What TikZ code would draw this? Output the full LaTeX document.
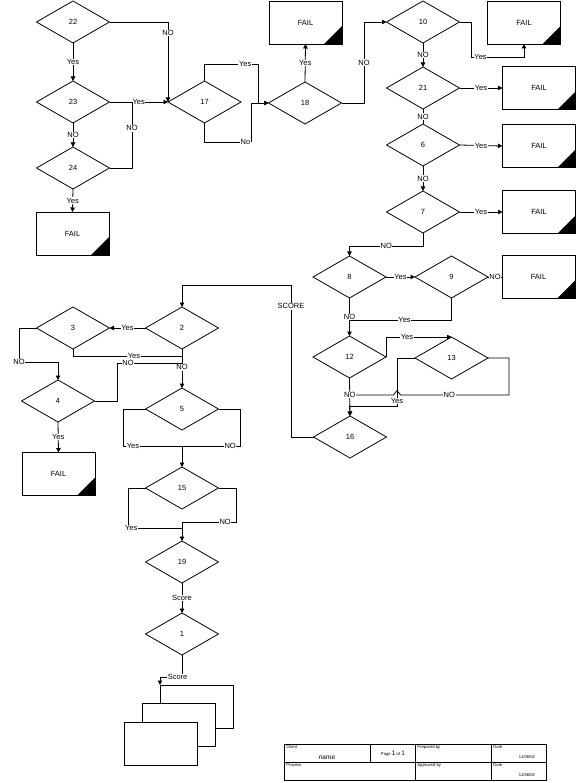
\documentclass[tikz,border=0pt]{standalone}
\usepackage{fontspec}
\setmainfont{Liberation Sans}
\usetikzlibrary{shapes.geometric,arrows.meta}
\newcommand\lblfont{\fontsize{7.5}{9}\selectfont}
\newcommand\tinyfont{\fontsize{4.2}{5}\selectfont}
\newcommand\midfont{\fontsize{6.5}{7}\selectfont}
\begin{document}
\begin{tikzpicture}[x=1pt,y=-1pt,line width=0.8pt,
  dia/.style={diamond,draw,minimum width=73pt,minimum height=42pt,inner sep=0pt,outer sep=0pt,font=\lblfont},
  failbox/.style={rectangle,draw,minimum width=73pt,minimum height=43pt,inner sep=0pt,outer sep=0pt,font=\lblfont,
    path picture={\fill (path picture bounding box.south east) -- ++(-18pt,0pt) -- ++(18pt,18pt) -- cycle;}},
  docbox/.style={rectangle,draw,fill=white,minimum width=73pt,minimum height=43pt,inner sep=0pt,outer sep=0pt},
  lab/.style={fill=white,inner sep=0.6pt,font=\lblfont},
  arr/.style={-{Triangle[length=4.5pt,width=4.5pt]}},
  tb/.style={anchor=north west,inner sep=0pt,font=\tinyfont}]
\fill[white] (0,0) rectangle (577,783);
\useasboundingbox (0,0) rectangle (577,783);
% nodes
\node[dia] (d22) at (73,22) {22};
\node[dia] (d23) at (73,102) {23};
\node[dia] (d24) at (73,168) {24};
\node[failbox] (f1) at (72.5,233.5) {FAIL};
\node[dia] (d17) at (204.5,102) {17};
\node[dia] (d18) at (305,103) {18};
\node[failbox] (f2) at (305.5,22.5) {FAIL};
\node[dia] (d10) at (423,22) {10};
\node[failbox] (f3) at (524,22.5) {FAIL};
\node[dia] (d21) at (423,88) {21};
\node[failbox] (f4) at (539,88) {FAIL};
\node[dia] (d6) at (423,145) {6};
\node[failbox] (f5) at (539,146) {FAIL};
\node[dia] (d7) at (423,212) {7};
\node[failbox] (f6) at (539,212) {FAIL};
\node[dia] (d8) at (349.5,277) {8};
\node[dia] (d9) at (451.5,277) {9};
\node[failbox] (f7) at (538.5,277) {FAIL};
\node[dia] (d12) at (349.5,357) {12};
\node[dia] (d13) at (451.5,358) {13};
\node[dia] (d16) at (350,437) {16};
\node[dia] (d2) at (182,328) {2};
\node[dia] (d3) at (73,328) {3};
\node[dia] (d4) at (58,401) {4};
\node[failbox] (f8) at (58.5,474) {FAIL};
\node[dia] (d5) at (182,409) {5};
\node[dia] (d15) at (182,488) {15};
\node[dia] (d19) at (182,562) {19};
\node[dia] (d1) at (182,634) {1};
\node[docbox] (docback) at (196.5,706.5) {};
\node[docbox] (docmid) at (179,725) {};
\node[docbox] (docfront) at (160.5,744) {};
% coordinates
\coordinate (c24) at (132,102);
\coordinate (y17) at (258,64);
\coordinate (n17) at (251,142);
\coordinate (c18) at (364,22);
\coordinate (c10) at (471,57);
\coordinate (c7) at (349.5,246);
\coordinate (c9) at (349.5,320);
\coordinate (c13a) at (397,406);
\coordinate (c13b) at (349.5,406);
\coordinate (c13e) at (509,395);
\coordinate (h1) at (400.5,395);
\coordinate (h2) at (397,390.5);
\coordinate (h3) at (393.5,395);
\coordinate (c12n) at (349.5,395);
\coordinate (c16) at (291,285);
\coordinate (c3) at (19,362);
\coordinate (c3b) at (182,356);
\coordinate (c4) at (117,363);
\coordinate (c4b) at (182,363);
\coordinate (c5l) at (123,446);
\coordinate (c5m) at (182,446);
\coordinate (c5r) at (240,446);
\coordinate (c15l) at (128,528);
\coordinate (c15m) at (182,528);
\coordinate (c15r) at (236,522);
\coordinate (c15n) at (182,522);
\coordinate (c1) at (160,677);
% connectors: left column top
\draw[arr] (d22.south) -- node[lab]{Yes} (d23.north);
\draw[arr] (d23.south) -- node[lab]{NO} (d24.north);
\draw[arr] (d24.south) -- node[lab]{Yes} (f1.north);
\draw[arr] (d22.east) -| node[lab,pos=0.57]{NO} (d17.west);
\draw[arr] (d23.east) -- node[lab]{Yes} (d17.west);
\draw (d24.east) -| node[lab,pos=0.8]{NO} (c24);
% 17 / 18
\draw (d17.north) |- node[lab,pos=0.88]{Yes} (y17);
\draw[arr] (y17) |- (d18.west);
\draw (d17.south) |- node[lab,pos=0.94]{No} (n17);
\draw[arr] (n17) |- (d18.west);
\draw[arr] (d18.north) -- node[lab]{Yes} (f2.south);
\draw (d18.east) -| node[lab,pos=0.75]{NO} (c18);
\draw[arr] (c18) -- (d10.west);
% right column
\draw (d10.east) -| (c10);
\draw[arr] (c10) -| node[lab,pos=0.09]{Yes} (f3.south);
\draw[arr] (d10.south) -- node[lab]{NO} (d21.north);
\draw[arr] (d21.east) -- node[lab]{Yes} (f4.west);
\draw (d21.south) -- node[lab]{NO} (d6.north);
\draw[arr] (d6.east) -- node[lab]{Yes} (f5.west);
\draw[arr] (d6.south) -- node[lab]{NO} (d7.north);
\draw[arr] (d7.east) -- node[lab]{Yes} (f6.west);
\draw (d7.south) |- node[lab,pos=0.75]{NO} (c7);
\draw[arr] (c7) -- (d8.north);
% 8 / 9 / 12 / 13 / 16
\draw[arr] (d8.east) -- node[lab]{Yes} (d9.west);
\draw (d9.east) -- node[lab]{NO} (f7.west);
\draw (d9.south) |- node[lab,pos=0.73]{Yes} (c9);
\draw[arr] (d8.south) -- node[lab]{NO} (d12.north);
\draw[arr] (d12.east) |- node[lab,pos=0.66]{Yes} (d13.north);
\draw (d13.east) -| (c13e) -- node[lab,pos=0.55]{NO} (h1) -- (h2) -- (h3) -- (c12n);
\draw (d13.west) -| node[lab,pos=0.95]{Yes} (c13a) -- (c13b);
\draw[arr] (c13b) -- (d16.north);
\draw[arr] (d12.south) -- node[lab,pos=0.45]{NO} (d16.north);
\draw (d16.west) -| node[lab,pos=0.93]{SCORE} (c16);
\draw[arr] (c16) -| (d2.north);
% left lower
\draw[arr] (d2.west) -- node[lab]{Yes} (d3.east);
\draw[arr] (d3.west) -| node[lab,pos=1]{NO} (c3) -| (d4.north);
\draw (d3.south) |- node[lab,pos=0.78]{Yes} (c3b);
\draw (d4.east) -| (c4) -- node[lab,pos=0.17]{NO} (c4b);
\draw[arr] (d4.south) -- node[lab]{Yes} (f8.north);
\draw[arr] (d2.south) -- node[lab,pos=0.47]{NO} (d5.north);
\draw (d5.west) -| (c5l) -- node[lab,pos=0.17]{Yes} (c5m);
\draw (d5.east) -| (c5r) -- node[lab,pos=0.17]{NO} (c5m);
\draw[arr] (c5m) -- (d15.north);
\draw (d15.west) -| (c15l) -- node[lab,pos=0.06]{Yes} (c15m);
\draw[arr] (d15.east) -| (c15r) -- node[lab,pos=0.2]{NO} (c15n) -- (d19.north);
\draw[arr] (d19.south) -- node[lab]{Score} (d1.north);
\draw[arr] (d1.south) |- node[lab,pos=0.6]{Score} (c1) -- (docback.north west);
% title block
\draw (284,744) rectangle (546,780);
\draw (284,762) -- (546,762);
\draw (370,744) -- (370,762);
\draw (415,744) -- (415,780);
\draw (491,744) -- (491,780);
\node[tb] (tclient) at (286,745.5) {Client};
\node[font=\midfont,inner sep=0pt] (tname) at (327,757.5) {name};
\node[inner sep=0pt] (tpage) at (393,753.5) {\tinyfont Page {\midfont 1} of {\midfont 1}};
\node[tb] (tprep) at (417,745.5) {Prepared by};
\node[tb] (tdate1) at (493,745.5) {Date};
\node[font=\tinyfont,inner sep=0pt] (tdv1) at (527,757) {11/06/02};
\node[tb] (tproc) at (286,763.5) {Process};
\node[tb] (tappr) at (417,763.5) {Approved by};
\node[tb] (tdate2) at (493,763.5) {Date};
\node[font=\tinyfont,inner sep=0pt] (tdv2) at (527,775) {11/06/02};
\end{tikzpicture}
\end{document}
